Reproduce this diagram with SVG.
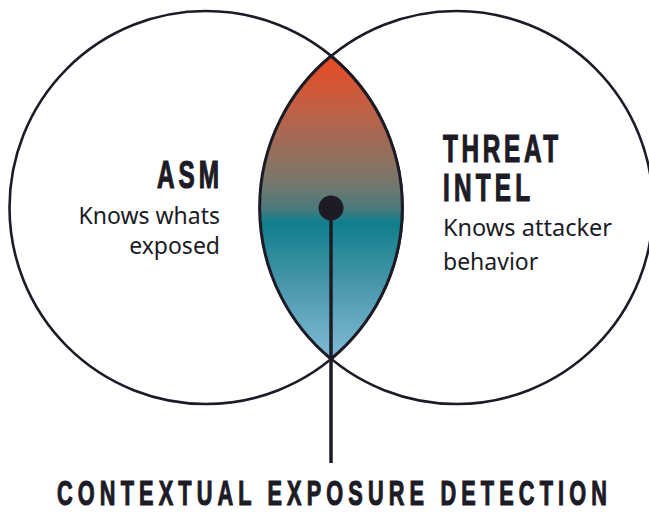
<svg xmlns="http://www.w3.org/2000/svg" width="649" height="515" viewBox="0 0 649 515">
  <style>
    .ring { fill: none; stroke: #1c1b26; stroke-width: 2.6; }
    .lens { stroke: #1c1b26; stroke-width: 3; }
    .head { font-family: "Liberation Sans", Arial, sans-serif; font-weight: 700; fill: #1c1b26; stroke: #1c1b26; stroke-width: 1.2; }
    .body { font-family: "Noto Sans", "Open Sans", sans-serif; font-size: 23px; fill: #1c1b26; }
    .wire { stroke: #1c1b26; stroke-width: 3.5; fill: none; }
  </style>
  <defs>
    <linearGradient id="lensGrad" x1="0" y1="56" x2="0" y2="359" gradientUnits="userSpaceOnUse">
      <stop offset="0" stop-color="#E84A22"/>
      <stop offset="0.18" stop-color="#BF6146"/>
      <stop offset="0.4" stop-color="#7C7669"/>
      <stop offset="0.5" stop-color="#4F7A7D"/>
      <stop offset="0.55" stop-color="#0F7E8B"/>
      <stop offset="0.75" stop-color="#4896AB"/>
      <stop offset="1" stop-color="#82BBD8"/>
    </linearGradient>
  </defs>

  <g id="asm">
    <circle class="ring" cx="206" cy="207.5" r="196.5"/>
    <text class="head" font-size="38" text-anchor="end" transform="translate(219,188) scale(0.64,1)" textLength="97" lengthAdjust="spacing">ASM</text>
    <text class="body" x="220" y="224" text-anchor="end">Knows whats</text>
    <text class="body" x="220" y="254" text-anchor="end">exposed</text>
  </g>

  <g id="threat-intel">
    <circle class="ring" cx="456.5" cy="207.5" r="196.5"/>
    <text class="head" font-size="38" transform="translate(443,162) scale(0.64,1)" textLength="180" lengthAdjust="spacing">THREAT</text>
    <text class="head" font-size="38" transform="translate(443,201) scale(0.64,1)" textLength="136" lengthAdjust="spacing">INTEL</text>
    <text class="body" x="443" y="236" textLength="169" lengthAdjust="spacingAndGlyphs">Knows attacker</text>
    <text class="body" x="443" y="270">behavior</text>
  </g>

  <g id="overlap">
    <path class="lens" fill="url(#lensGrad)" d="M331,56 A196.5,196.5 0 0 0 331,359 A196.5,196.5 0 0 0 331,56 Z"/>
  </g>

  <g id="connectors">
    <line class="wire" x1="331" y1="208" x2="331" y2="463"/>
    <circle cx="331" cy="208" r="12.5" fill="#1c1b26"/>
  </g>

  <g id="contextual-exposure-detection">
    <text class="head" font-size="35" transform="translate(57,505) scale(0.62,1)" textLength="887" lengthAdjust="spacing">CONTEXTUAL EXPOSURE DETECTION</text>
  </g>
</svg>
